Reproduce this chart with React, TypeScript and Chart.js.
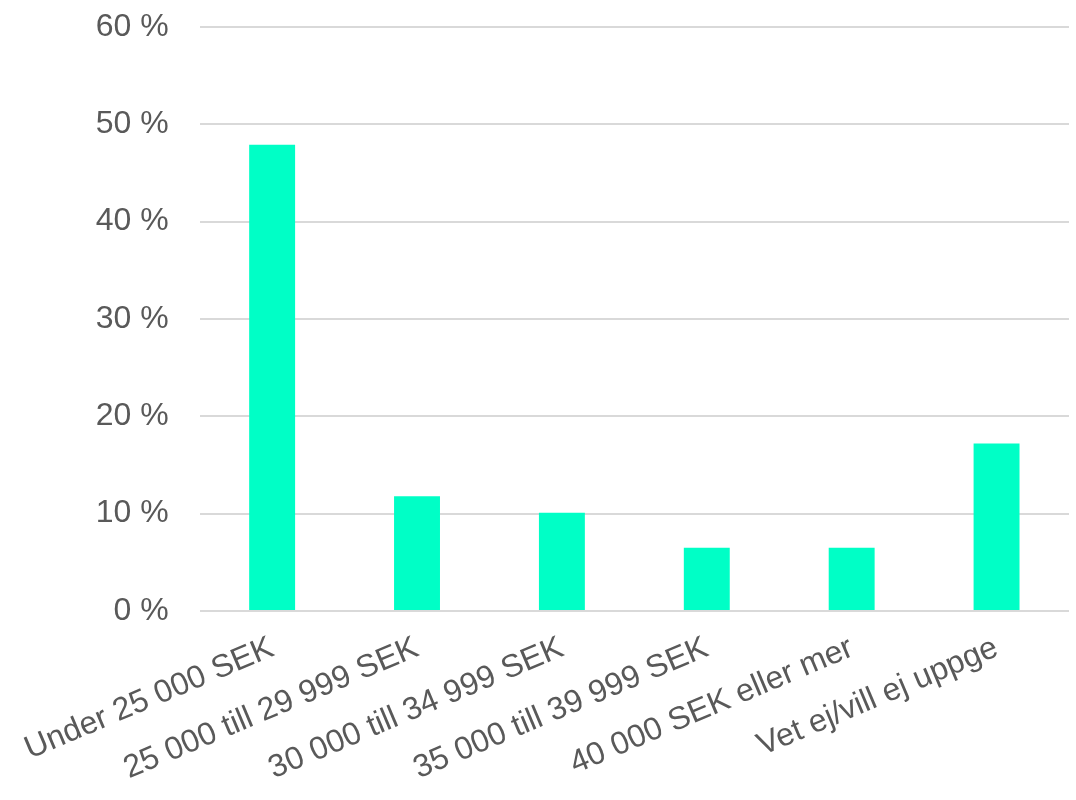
import React, { useEffect, useRef } from "react";
import { Chart, registerables } from "chart.js";

Chart.register(...registerables);

const categories = [
  "Under 25 000 SEK",
  "25 000 till 29 999 SEK",
  "30 000 till 34 999 SEK",
  "35 000 till 39 999 SEK",
  "40 000 SEK eller mer",
  "Vet ej/vill ej uppge",
];
const values = [47.9, 11.8, 10.1, 6.5, 6.5, 17.2];
const yTicks = [0, 10, 20, 30, 40, 50, 60];

export default function App() {
  const ref = useRef<HTMLCanvasElement>(null);
  useEffect(() => {
    document.body.style.margin = "0";
    const font = { family: "'Liberation Sans', Arial, sans-serif", size: 32 };
    const chart = new Chart(ref.current!, {
      type: "bar",
      data: {
        labels: categories,
        datasets: [
          {
            data: values,
            backgroundColor: "#00FFC6",
            barPercentage: 0.317,
            categoryPercentage: 1,
          },
        ],
      },
      options: {
        animation: false,
        responsive: false,
        layout: { padding: { top: 27, right: 7, left: 0, bottom: 0 } },
        plugins: { legend: { display: false }, tooltip: { enabled: false } },
        scales: {
          x: {
            grid: { display: false },
            border: { display: false },
            ticks: {
              color: "#595959",
              font,
              minRotation: 23,
              maxRotation: 23,
              autoSkip: false,
              padding: 10,
            },
            afterFit: (s: any) => {
              s.height = 189;
            },
          },
          y: {
            min: 0,
            max: 60,
            afterBuildTicks: (s: any) => {
              s.ticks = yTicks.map((v) => ({ value: v }));
            },
            grid: { color: "#D9D9D9", lineWidth: 2, drawTicks: false },
            border: { display: false },
            ticks: {
              color: "#595959",
              font,
              padding: 31,
              callback: (v: any) => `${v} %`,
            },
            afterFit: (s: any) => {
              s.width = 198;
              s.paddingTop = 0;
              s.paddingBottom = 0;
            },
          },
        },
      },
    });
    return () => chart.destroy();
  }, []);
  return <canvas ref={ref} width={1076} height={800} style={{ display: "block" }} />;
}
